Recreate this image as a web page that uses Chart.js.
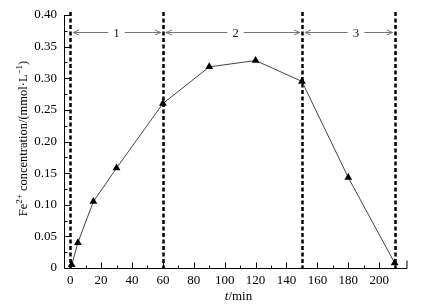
<!DOCTYPE html>
<html>
<head>
<meta charset="utf-8">
<script src="https://cdn.jsdelivr.net/npm/chart.js@4/dist/chart.umd.min.js"></script>
<style>
  html, body { margin: 0; padding: 0; background: #fff; }
  #wrap { width: 422px; height: 308px; }
</style>
</head>
<body>
<div id="wrap"><canvas id="feChart" width="422" height="308"></canvas></div>
<script>
// time (min) and Fe2+ concentration (mmol/L)
const times = [1, 5, 15, 30, 60, 90, 120, 150, 180, 210];
const feConc = [0.005, 0.040, 0.105, 0.158, 0.260, 0.318, 0.328, 0.295, 0.143, 0.008];

const xTicks = [0, 20, 40, 60, 80, 100, 120, 140, 160, 180, 200];
const yTicks = [0, 0.05, 0.10, 0.15, 0.20, 0.25, 0.30, 0.35, 0.40];

// stage boundaries (min) and the stage numbers between them
const phaseBounds = [0, 60, 150, 210];
const phaseNames = ['1', '2', '3'];
const phaseLabelAt = [30, 107, 185];
const arrowLevel = 0.373;

const serif = '"Liberation Serif", "Times New Roman", serif';

const decor = {
  id: 'decor',
  beforeDatasetsDraw(chart) {
    const ctx = chart.ctx, xs = chart.scales.x, a = chart.chartArea;
    ctx.save();
    ctx.strokeStyle = '#000';
    ctx.lineWidth = 2.5;
    ctx.setLineDash([4, 2.5]);
    phaseBounds.forEach(t => {
      const x = Math.round(xs.getPixelForValue(t)) + 0.5;
      ctx.beginPath();
      ctx.moveTo(x, a.top - 3);
      ctx.lineTo(x, a.bottom);
      ctx.stroke();
    });
    ctx.restore();
  },
  afterDraw(chart) {
    const ctx = chart.ctx, xs = chart.scales.x, ys = chart.scales.y, a = chart.chartArea;
    ctx.save();
    // axes
    ctx.strokeStyle = '#000';
    ctx.lineWidth = 1;
    const L = Math.round(a.left) + 0.5, B = Math.round(a.bottom) + 0.5;
    ctx.beginPath();
    ctx.moveTo(L, a.top);
    ctx.lineTo(L, B);
    ctx.lineTo(a.right, B);
    ctx.lineTo(a.right, B - 8);
    ctx.stroke();
    // inward ticks, major + minor
    ctx.beginPath();
    for (let i = 0; i <= 16; i++) {
      const y = Math.round(ys.getPixelForValue(i * 0.025)) + 0.5;
      const len = i % 2 === 0 ? 6 : 3;
      ctx.moveTo(L, y); ctx.lineTo(L + len, y);
    }
    for (let v = 0; v <= 210; v += 10) {
      const x = Math.round(xs.getPixelForValue(v)) + 0.5;
      const len = v % 20 === 0 ? 6 : 3;
      ctx.moveTo(x, B); ctx.lineTo(x, B - len);
    }
    ctx.stroke();

    // stage arrows
    const y = Math.round(ys.getPixelForValue(arrowLevel)) + 0.5;
    ctx.font = '13px ' + serif;
    ctx.textAlign = 'center';
    ctx.textBaseline = 'middle';
    ctx.strokeStyle = '#777';
    ctx.lineWidth = 1;
    phaseNames.forEach((name, i) => {
      const x0 = xs.getPixelForValue(phaseBounds[i]) + 3;
      const x1 = xs.getPixelForValue(phaseBounds[i + 1]) - 2;
      const xl = xs.getPixelForValue(phaseLabelAt[i]);
      const w = ctx.measureText(name).width;
      ctx.beginPath();
      ctx.moveTo(x0, y); ctx.lineTo(xl - w / 2 - 5, y);
      ctx.moveTo(xl + w / 2 + 5, y); ctx.lineTo(x1, y);
      ctx.moveTo(x0 + 6, y - 2.5); ctx.lineTo(x0, y); ctx.lineTo(x0 + 6, y + 2.5);
      ctx.moveTo(x1 - 6, y - 2.5); ctx.lineTo(x1, y); ctx.lineTo(x1 - 6, y + 2.5);
      ctx.stroke();
      ctx.fillStyle = '#222';
      ctx.fillText(name, xl, y + 1);
    });

    // x title: italic t + /min
    ctx.fillStyle = '#000';
    ctx.textBaseline = 'alphabetic';
    ctx.textAlign = 'left';
    ctx.font = 'italic 13px ' + serif;
    const tw = ctx.measureText('t').width;
    ctx.font = '13px ' + serif;
    const mw = ctx.measureText('/min').width;
    const xc = (a.left + a.right) / 2 + 3;
    let xx = xc - (tw + mw) / 2;
    ctx.font = 'italic 13px ' + serif;
    ctx.fillText('t', xx, 300);
    ctx.font = '13px ' + serif;
    ctx.fillText('/min', xx + tw, 300);

    // y title with superscripts, rotated
    const parts = [
      ['Fe', 0], ['2+', 1], [' concentration/(mmol\u00b7L', 0], ['\u22121', 1], [')', 0]
    ];
    const fontFor = s => (s ? '9px ' : '12.5px ') + serif;
    let total = 0;
    parts.forEach(p => { ctx.font = fontFor(p[1]); total += ctx.measureText(p[0]).width; });
    ctx.translate(27, (a.top + a.bottom) / 2 - 3);
    ctx.rotate(-Math.PI / 2);
    let px = -total / 2;
    parts.forEach(p => {
      ctx.font = fontFor(p[1]);
      ctx.fillText(p[0], px, p[1] ? -5 : 0);
      px += ctx.measureText(p[0]).width;
    });
    ctx.restore();
  }
};

new Chart(document.getElementById('feChart'), {
  type: 'line',
  data: {
    datasets: [{
      data: times.map((t, i) => ({ x: t, y: feConc[i] })),
      borderColor: '#444',
      borderWidth: 1,
      pointStyle: 'triangle',
      pointRadius: 4.5,
      pointBackgroundColor: '#000',
      pointBorderColor: '#000',
      pointBorderWidth: 0,
      tension: 0
    }]
  },
  options: {
    responsive: false,
    animation: false,
    layout: { padding: { top: 15, right: 15, left: 0, bottom: 0 } },
    plugins: { legend: { display: false }, tooltip: { enabled: false } },
    scales: {
      x: {
        type: 'linear',
        min: -4,
        max: 218,
        border: { display: false },
        grid: { display: false, drawTicks: false },
        afterBuildTicks: s => { s.ticks = xTicks.map(v => ({ value: v })); },
        afterFit: s => { s.height = 40; },
        ticks: {
          padding: 5,
          color: '#000',
          font: { family: serif, size: 13 },
          maxRotation: 0,
          autoSkip: false
        }
      },
      y: {
        min: 0,
        max: 0.4,
        border: { display: false },
        grid: { display: false, drawTicks: false },
        afterBuildTicks: s => { s.ticks = yTicks.map(v => ({ value: v })); },
        afterFit: s => { s.width = 64; },
        ticks: {
          padding: 7,
          color: '#000',
          font: { family: serif, size: 13 },
          callback: v => v === 0 ? '0' : v.toFixed(2)
        }
      }
    }
  },
  plugins: [decor]
});
</script>
</body>
</html>
